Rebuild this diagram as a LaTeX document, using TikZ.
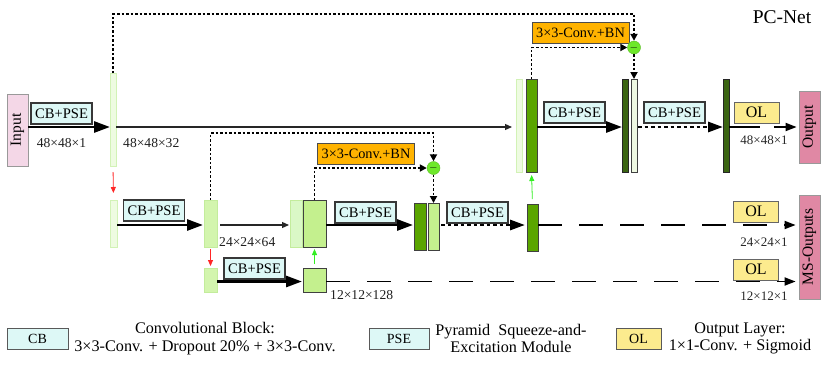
\documentclass[tikz,border=0pt]{standalone}
\usepackage{fontspec}
\usepackage{graphicx}
\setmainfont{Liberation Serif}
\usetikzlibrary{arrows.meta,calc}
\definecolor{cbfill}{HTML}{DDF8F6}
\definecolor{olfill}{HTML}{FCEB8E}
\definecolor{orfill}{HTML}{FFB300}
\definecolor{inpink}{HTML}{F4D7E7}
\definecolor{outpink}{HTML}{E088A4}
\definecolor{vlg}{HTML}{EEFBE1}
\definecolor{vlgB}{HTML}{D2F2B6}
\definecolor{lg}{HTML}{D3F5AE}
\definecolor{lgB}{HTML}{C3EC9C}
\definecolor{lg3}{HTML}{DAF8C6}
\definecolor{mg}{HTML}{C4F08E}
\definecolor{medg}{HTML}{5AA500}
\definecolor{darkg}{HTML}{3B6512}
\definecolor{pale}{HTML}{EEF8E2}
\definecolor{minusg}{HTML}{6EE82A}
\definecolor{arrg}{HTML}{33EE22}
\newcommand{\myfs}[1]{\fontsize{#1}{#1}\selectfont}
\begin{document}
\begin{tikzpicture}[x=1pt,y=-1pt,
  col/.style={draw, line width=0.7pt, inner sep=0pt, outer sep=0pt},
  vlight/.style={col, fill=vlg, draw=vlgB},
  light/.style={col, fill=lg, draw=lgB},
  light3/.style={col, fill=lg3, draw=lgB},
  mid/.style={col, fill=mg, draw=black!75},
  medium/.style={col, fill=medg, draw=black!75},
  dark/.style={col, fill=darkg, draw=black!85},
  palecol/.style={col, fill=pale, draw=black!75},
  cbpse/.style={draw=black!78, line width=1.3pt, fill=cbfill, inner sep=0pt,
    minimum width=61pt, minimum height=21pt, font=\myfs{14.6}},
  olbox/.style={draw=black!60, line width=1pt, fill=olfill, inner sep=0pt,
    minimum width=45pt, minimum height=21pt, font=\myfs{16}},
  convbn/.style={draw=black!70, line width=1pt, fill=orfill, inner sep=0pt,
    minimum width=97pt, minimum height=21pt, font=\myfs{14.3}},
  iobox/.style={draw=black!40, line width=0.8pt, inner sep=0pt, font=\myfs{15.5}},
  minusnode/.style={circle, fill=minusg, draw=minusg!80!black, line width=0.4pt,
    minimum size=13pt, inner sep=0pt, font=\myfs{11}},
  dimlab/.style={inner sep=0pt, text=black!88, font=\myfs{13.6}},
  dimlabs/.style={inner sep=0pt, text=black!85, font=\myfs{13}},
  thickarr/.style={line width=2.8pt, -{Triangle[length=16pt,width=11pt]}},
  dotthick/.style={line width=2.8pt, dash pattern=on 3.5pt off 3pt, -{Triangle[length=15pt,width=10pt]}},
  thinarr/.style={line width=1.2pt, draw=black!85, -{Triangle[length=7pt,width=6pt]}},
  dotarr/.style={line width=1.8pt, dash pattern=on 2.5pt off 2pt, -{Triangle[length=7pt,width=7pt]}},
  longdash/.style={line width=1.8pt, dash pattern=on 24pt off 17pt, -{Triangle[length=11pt,width=8pt]}},
  redarr/.style={line width=0.8pt, draw=red!85, -{Triangle[length=6pt,width=5pt]}},
  grnarr/.style={line width=0.8pt, draw=arrg, -{Triangle[length=6pt,width=5pt]}},
  legbox/.style={draw=black!65, line width=0.8pt, inner sep=0pt, minimum height=21pt, font=\myfs{14}},
  legtxt/.style={inner sep=0pt, align=center, font=\fontsize{16.2}{17.5}\selectfont}
]
\useasboundingbox (0,0) rectangle (831,365);

% row coordinates
\coordinate (r1) at (0,127);
\coordinate (r2) at (0,225);
\coordinate (r3) at (0,281.5);
\coordinate (top1) at (0,14);
\coordinate (top2) at (0,133);

% ---------- top row ----------
\node[iobox, fill=inpink, minimum width=21pt, minimum height=72pt] (in) at (17.5,130) {\rotatebox{90}{Input}};
\node[cbpse] (cb1) at (61.5,113.5) {CB+PSE};
\node[vlight, minimum width=6pt, minimum height=93pt] (c1) at (113,119.5) {};
\node[dimlab] (l1) at (61.5,143) {48×48×1};
\node[dimlab, anchor=west] (l2) at (123,143) {48×48×32};

\node[vlight, minimum width=6pt, minimum height=93pt] (cA) at (519,125.5) {};
\node[medium, minimum width=11pt, minimum height=93pt] (cB) at (531.5,125.5) {};
\node[cbpse] (cb2) at (574.5,112.5) {CB+PSE};
\node[dark, minimum width=6pt, minimum height=93pt] (cC) at (625,125.5) {};
\node[palecol, minimum width=6pt, minimum height=93pt] (cD) at (634,125.5) {};
\node[cbpse] (cb3) at (674.5,112.5) {CB+PSE};
\node[dark, minimum width=6pt, minimum height=93pt] (cE) at (726,125.5) {};
\node[olbox] (ol1) at (756.5,112.5) {OL};
\node[dimlabs] (l3) at (764,140) {48×48×1};
\node[iobox, fill=outpink, minimum width=21pt, minimum height=72pt] (out1) at (809.5,127) {\rotatebox{90}{Output}};
\node[inner sep=0pt, font=\myfs{19.5}] (title) at (782,17) {PC-Net};

\node[convbn] (o1) at (580.5,32.5) {3×3-Conv.+BN};
\node[minusnode] (m1) at (634,47.5) {$-$};

\draw[thickarr] (in.east |- r1) -- (c1.west |- r1);
\draw[thinarr, shorten >=4pt] (c1.east |- r1) -- (cA.west |- r1);
\draw[thickarr] (cB.east |- r1) -- (cC.west |- r1);
\draw[dotthick, shorten <=1pt] (cD.east |- r1) -- (cE.west |- r1);
\draw[line width=1.8pt, dash pattern=on 31pt off 14pt, -{Triangle[length=11pt,width=8pt]}, shorten >=2pt] (cE.east |- r1) -- (out1.west |- r1);

\draw[dotarr] (c1.north) |- (m1.north |- top1) -- (m1.north);
\draw[dotarr] (cB.north) |- (m1.west);
\draw[dotarr] (m1.south) -- (cD.north);

% ---------- middle row ----------
\node[vlight, minimum width=7pt, minimum height=47pt] (c2a) at (113.5,223.5) {};
\node[cbpse] (cb4) at (154,210.5) {CB+PSE};
\node[light, minimum width=13pt, minimum height=47pt] (c2b) at (210.5,223.5) {};
\node[dimlab, anchor=west] (l4) at (219,242) {24×24×64};
\node[light3, minimum width=12pt, minimum height=47pt] (c3a) at (296,223.5) {};
\node[mid, minimum width=23pt, minimum height=47pt] (c3b) at (314.5,223.5) {};
\node[cbpse] (cb5) at (365.5,212.5) {CB+PSE};
\node[medium, minimum width=12pt, minimum height=47pt] (c4a) at (420,226.5) {};
\node[mid, minimum width=11pt, minimum height=47pt] (c4b) at (433.5,226.5) {};
\node[cbpse] (cb6) at (477.5,212.5) {CB+PSE};
\node[medium, minimum width=11pt, minimum height=47pt] (c5) at (532.5,227.5) {};
\node[olbox] (ol2) at (756,211.5) {OL};
\node[dimlabs] (l5) at (764,242) {24×24×1};
\node[iobox, fill=outpink, minimum width=21pt, minimum height=104pt] (ms) at (809.5,247) {\rotatebox{90}{MS-Outputs}};

\node[convbn] (o2) at (366,154) {3×3-Conv.+BN};
\node[minusnode] (m2) at (433.5,168) {$-$};

\draw[redarr, shorten <=6pt, shorten >=7pt] (c1.south) -- (c2a.north);
\draw[thickarr, shorten >=1pt] (c2a.east |- r2) -- (c2b.west |- r2);
\draw[thinarr, shorten <=3pt, shorten >=1pt] (c2b.east |- r2) -- (c3a.west |- r2);
\draw[thickarr, shorten >=1pt] (c3b.east |- r2) -- (c4a.west |- r2);
\draw[dotthick, shorten <=2pt, shorten >=2pt] (c4b.east |- r2) -- (c5.west |- r2);
\draw[longdash, shorten >=3pt] (c5.east |- r2) -- (ms.west |- r2);
\draw[grnarr, shorten <=5pt, shorten >=3pt] (c5.north) -- (cB.south);

\draw[dotarr] (c2b.north) |- (m2.north |- top2) -- (m2.north);
\draw[dotarr] (c3b.north) |- (m2.west);
\draw[dotarr] (m2.south) -- (c4b.north);

% ---------- bottom row ----------
\node[light, minimum width=13pt, minimum height=24pt] (c6a) at (210.5,280) {};
\node[cbpse] (cb7) at (254.5,268.5) {CB+PSE};
\node[mid, minimum width=23pt, minimum height=24pt] (c7) at (314.5,280) {};
\node[dimlab, anchor=west] (l6) at (330,295) {12×12×128};
\node[olbox] (ol3) at (756,269.5) {OL};
\node[dimlabs] (l7) at (764,296) {12×12×1};

\draw[redarr, shorten <=2pt, shorten >=2pt] (c2b.south) -- (c6a.north);
\draw[thickarr, shorten >=1pt] (c6a.east |- r3) -- (c7.west |- r3);
\draw[longdash, shorten >=3pt] (c7.east |- r3) -- (ms.west |- r3);
\draw[grnarr, shorten <=4pt, shorten >=2pt] (c7.north) -- (c3b.south);

% ---------- legend ----------
\node[legbox, fill=cbfill, minimum width=61pt] (lgcb) at (37.5,338.5) {CB};
\node[legtxt] (lgcbt) at (205,338.5) {Convolutional Block:\\3×3-Conv. + Dropout 20\% + 3×3-Conv.};
\node[legbox, fill=cbfill, minimum width=60pt] (lgpse) at (399,338.5) {PSE};
\node[legtxt] (lgpset) at (511,338.5) {Pyramid\ \ Squeeze-and-\\Excitation Module};
\node[legbox, fill=olfill, minimum width=45pt] (lgol) at (638.5,338.5) {OL};
\node[legtxt] (lgolt) at (740,338.5) {Output Layer:\\1×1-Conv. + Sigmoid};
\end{tikzpicture}
\end{document}
